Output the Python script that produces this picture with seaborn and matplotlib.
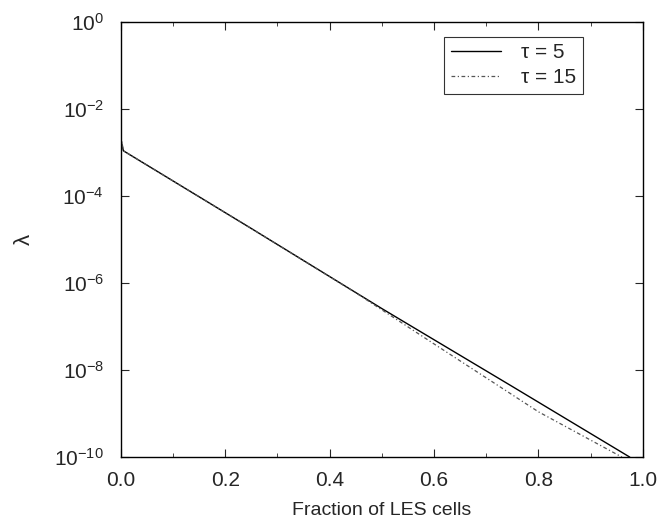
import numpy as np
import pandas as pd
import seaborn as sns
import matplotlib.pyplot as plt
from matplotlib.ticker import MultipleLocator, FixedLocator

# Fraction of LES cells vs lambda
frac_t5 = [0.0, 0.005, 0.25, 0.5, 0.75, 0.975]
lam_t5 = [2.0e-3, 1.1e-3, 1.8e-5, 2.6e-7, 4.2e-9, 1.0e-10]

frac_t15 = [0.0, 0.005, 0.25, 0.45, 0.6, 0.8, 0.96]
lam_t15 = [2.5e-3, 1.1e-3, 1.8e-5, 6.0e-7, 4.0e-8, 1.1e-9, 1.0e-10]

df = pd.concat([
    pd.DataFrame({"frac": frac_t5, "lam": lam_t5, "tau": "τ = 5"}),
    pd.DataFrame({"frac": frac_t15, "lam": lam_t15, "tau": "τ = 15"}),
])

sns.set_style("ticks")
plt.rcParams["font.family"] = ["Liberation Sans", "DejaVu Sans"]

fig = plt.figure(figsize=(6.71, 5.26), dpi=100)
ax = fig.add_axes([0.180, 0.131, 0.778, 0.827])

sns.lineplot(data=df[df.tau == "τ = 5"], x="frac", y="lam", color="black",
             linewidth=1.0, ax=ax, label="τ = 5", sort=False)
sns.lineplot(data=df[df.tau == "τ = 15"], x="frac", y="lam", color="#555555",
             linewidth=0.9, linestyle=(0, (3, 2, 1, 2)), ax=ax, label="τ = 15", sort=False)

ax.set_yscale("log")
ax.set_xlim(0, 1)
ax.set_ylim(1e-10, 1)
ax.xaxis.set_major_locator(MultipleLocator(0.2))
ax.xaxis.set_minor_locator(MultipleLocator(0.1))
ax.xaxis.set_major_formatter(plt.FormatStrFormatter("%.1f"))
ax.yaxis.set_major_locator(FixedLocator([10.0 ** k for k in range(-10, 1, 2)]))
ax.yaxis.set_minor_locator(FixedLocator([]))
ax.yaxis.set_minor_formatter(plt.NullFormatter())

ax.tick_params(which="both", direction="in", top=True, right=True, labelsize=15)
ax.tick_params(which="major", length=6, pad=10)
ax.tick_params(which="minor", length=3)
ax.tick_params(axis="y", which="major", pad=12)
for s in ax.spines.values():
    s.set_linewidth(1.0)
    s.set_color("black")

ax.set_xlabel("Fraction of LES cells", fontsize=14, labelpad=9)
ax.set_ylabel("λ", fontsize=16, labelpad=14)

leg = ax.legend(loc="upper right", bbox_to_anchor=(0.885, 0.966), borderaxespad=0,
                fontsize=15, frameon=True, fancybox=False, edgecolor="black",
                handlelength=2.4, borderpad=0.3, labelspacing=0.3, handletextpad=1.0)
leg.get_frame().set_linewidth(0.8)

plt.savefig("out.png", dpi=100)
